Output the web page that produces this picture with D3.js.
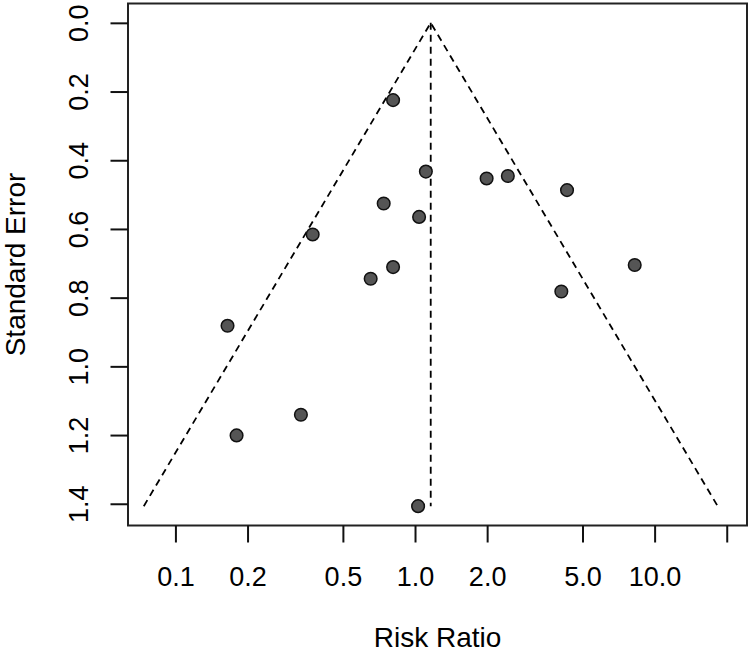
<!DOCTYPE html>
<html>
<head>
<meta charset="utf-8">
<script src="https://cdn.jsdelivr.net/npm/d3@7"></script>
<style>
  body { margin: 0; background: #fff; }
  svg { display: block; font-family: "Liberation Sans", Arial, sans-serif; }
</style>
</head>
<body>
<div id="chart"></div>
<script>
// funnel plot, risk ratios on log scale vs standard error

var riskRatio = [0.81, 1.11, 1.99, 2.44, 4.31, 0.74, 1.04, 0.374, 8.26, 0.81, 0.653, 4.08, 0.165, 0.334, 0.18, 1.03];
var stdError  = [0.225, 0.433, 0.453, 0.446, 0.487, 0.526, 0.565, 0.616, 0.705, 0.711, 0.745, 0.782, 0.882, 1.141, 1.201, 1.407];
var pooledRR = 1.163;

var xTicks = [0.1, 0.2, 0.5, 1, 2, 5, 10, 20];
var xTickLabels = ['0.1', '0.2', '0.5', '1.0', '2.0', '5.0', '10.0', ''];
var yTicks = [0, 0.2, 0.4, 0.6, 0.8, 1.0, 1.2, 1.4];
var yTickLabels = ['0.0', '0.2', '0.4', '0.6', '0.8', '1.0', '1.2', '1.4'];

var width = 750,
    height = 653,
    box = { left: 128, right: 747, top: 3.5, bottom: 525.5 };

var svg = d3.select('#chart')
    .append('svg')
    .attr('width', width)
    .attr('height', height);

var seMax = d3.max(stdError);

var x = d3.scaleLog()
    .domain([0.0634, 24.3])
    .range([box.left, box.right]);

// R style 4% padding, reversed
var y = d3.scaleLinear()
    .domain([-0.04 * seMax, seMax * 1.04])
    .range([box.top, box.bottom]);

// funnel
var z = 1.96;
var funnel = [
    [pooledRR * Math.exp(-z * seMax), seMax],
    [pooledRR, 0],
    [pooledRR * Math.exp(z * seMax), seMax]
];
var line = d3.line()
    .x(d => x(d[0]))
    .y(d => y(d[1]));

svg.append('path')
    .datum(funnel)
    .attr('d', line)
    .attr('fill', 'none')
    .attr('stroke', '#000')
    .attr('stroke-width', 1.8)
    .attr('stroke-dasharray', '7,5');

svg.append('path')
    .datum([[pooledRR, 0], [pooledRR, seMax]])
    .attr('d', line)
    .attr('fill', 'none')
    .attr('stroke', '#000')
    .attr('stroke-width', 1.8)
    .attr('stroke-dasharray', '7,5');

// studies
svg.selectAll('.study')
    .data(riskRatio.map((rr, i) => ({ rr: rr, se: stdError[i] })))
    .enter()
    .append('circle')
    .attr('class', 'study')
    .attr('cx', d => x(d.rr))
    .attr('cy', d => y(d.se))
    .attr('r', 6.3)
    .attr('fill', '#555')
    .attr('stroke', '#111')
    .attr('stroke-width', 1.5);

// box
svg.append('rect')
    .attr('x', box.left)
    .attr('y', box.top)
    .attr('width', box.right - box.left)
    .attr('height', box.bottom - box.top)
    .attr('fill', 'none')
    .attr('stroke', '#222')
    .attr('stroke-width', 2);

// x axis
var xAxis = d3.axisBottom(x)
    .tickValues(xTicks)
    .tickFormat((d, i) => xTickLabels[i])
    .tickSize(17)
    .tickPadding(24);

var gx = svg.append('g')
    .attr('transform', `translate(0,${box.bottom})`)
    .call(xAxis);
gx.select('.domain').remove();
gx.selectAll('line').attr('stroke', '#111').attr('stroke-width', 2);
gx.selectAll('text')
    .attr('fill', '#000')
    .attr('font-size', 27);

// y axis
var yAxis = d3.axisLeft(y)
    .tickValues(yTicks)
    .tickFormat((d, i) => yTickLabels[i])
    .tickSize(17.5);

var gy = svg.append('g')
    .attr('transform', `translate(${box.left},0)`)
    .call(yAxis);
gy.select('.domain').remove();
gy.selectAll('line').attr('stroke', '#111').attr('stroke-width', 2);
gy.selectAll('text')
    .attr('x', null)
    .attr('dy', null)
    .attr('transform', 'translate(-40,0) rotate(-90)')
    .attr('text-anchor', 'middle')
    .attr('fill', '#000')
    .attr('font-size', 27);

// axis titles
svg.append('text')
    .attr('x', (box.left + box.right) / 2)
    .attr('y', 647)
    .attr('text-anchor', 'middle')
    .attr('font-size', 28)
    .text('Risk Ratio');

svg.append('text')
    .attr('transform', `translate(25,${(box.top + box.bottom) / 2}) rotate(-90)`)
    .attr('text-anchor', 'middle')
    .attr('font-size', 28)
    .text('Standard Error');
</script>
</body>
</html>
